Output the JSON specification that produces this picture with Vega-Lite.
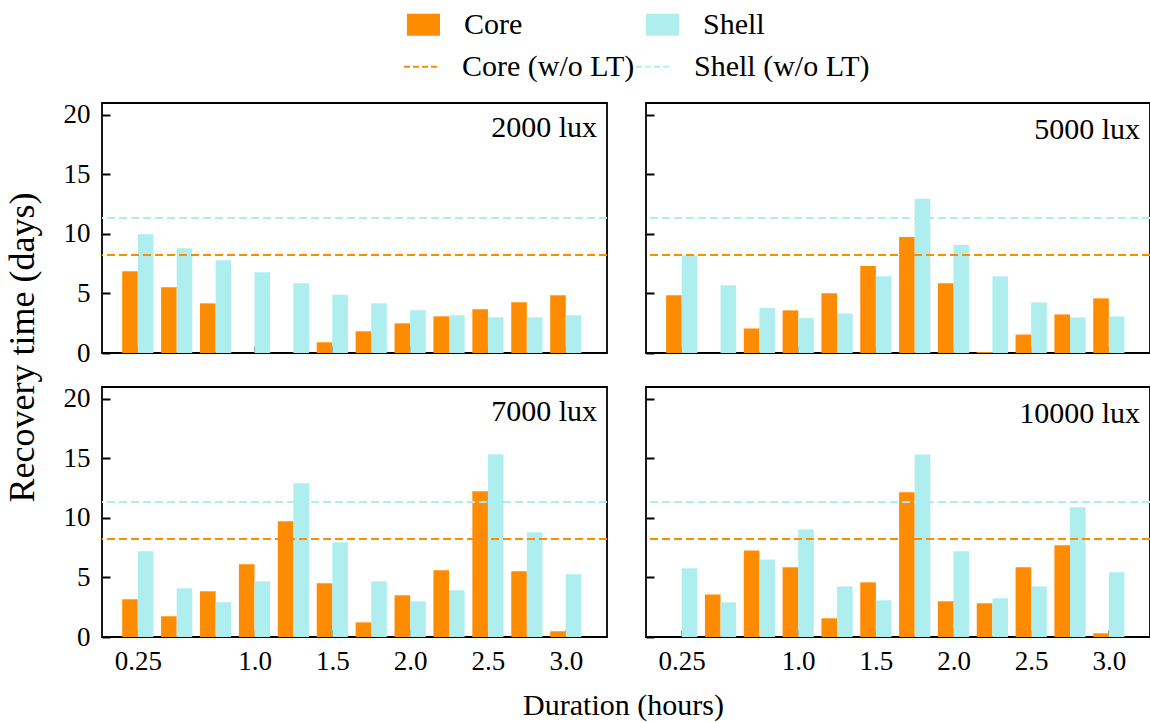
{
  "$schema": "https://vega.github.io/schema/vega-lite/v6.json",
  "background": "white",
  "padding": {"left": 5, "top": 8, "right": 1, "bottom": 4},
  "datasets": {
    "bars": [
      {"lux": "2000 lux", "duration": 0.25, "series": "Core", "days": 6.86},
      {"lux": "2000 lux", "duration": 0.25, "series": "Shell", "days": 9.97},
      {"lux": "2000 lux", "duration": 0.5, "series": "Core", "days": 5.52},
      {"lux": "2000 lux", "duration": 0.5, "series": "Shell", "days": 8.8},
      {"lux": "2000 lux", "duration": 0.75, "series": "Core", "days": 4.17},
      {"lux": "2000 lux", "duration": 0.75, "series": "Shell", "days": 7.79},
      {"lux": "2000 lux", "duration": 1.0, "series": "Core", "days": 0},
      {"lux": "2000 lux", "duration": 1.0, "series": "Shell", "days": 6.78},
      {"lux": "2000 lux", "duration": 1.25, "series": "Core", "days": 0},
      {"lux": "2000 lux", "duration": 1.25, "series": "Shell", "days": 5.85},
      {"lux": "2000 lux", "duration": 1.5, "series": "Core", "days": 0.9},
      {"lux": "2000 lux", "duration": 1.5, "series": "Shell", "days": 4.9},
      {"lux": "2000 lux", "duration": 1.75, "series": "Core", "days": 1.82},
      {"lux": "2000 lux", "duration": 1.75, "series": "Shell", "days": 4.17},
      {"lux": "2000 lux", "duration": 2.0, "series": "Core", "days": 2.49},
      {"lux": "2000 lux", "duration": 2.0, "series": "Shell", "days": 3.59},
      {"lux": "2000 lux", "duration": 2.25, "series": "Core", "days": 3.08},
      {"lux": "2000 lux", "duration": 2.25, "series": "Shell", "days": 3.17},
      {"lux": "2000 lux", "duration": 2.5, "series": "Core", "days": 3.67},
      {"lux": "2000 lux", "duration": 2.5, "series": "Shell", "days": 3.0},
      {"lux": "2000 lux", "duration": 2.75, "series": "Core", "days": 4.26},
      {"lux": "2000 lux", "duration": 2.75, "series": "Shell", "days": 3.0},
      {"lux": "2000 lux", "duration": 3.0, "series": "Core", "days": 4.85},
      {"lux": "2000 lux", "duration": 3.0, "series": "Shell", "days": 3.17},

      {"lux": "5000 lux", "duration": 0.25, "series": "Core", "days": 4.85},
      {"lux": "5000 lux", "duration": 0.25, "series": "Shell", "days": 8.2},
      {"lux": "5000 lux", "duration": 0.5, "series": "Core", "days": 0},
      {"lux": "5000 lux", "duration": 0.5, "series": "Shell", "days": 5.69},
      {"lux": "5000 lux", "duration": 0.75, "series": "Core", "days": 2.06},
      {"lux": "5000 lux", "duration": 0.75, "series": "Shell", "days": 3.77},
      {"lux": "5000 lux", "duration": 1.0, "series": "Core", "days": 3.58},
      {"lux": "5000 lux", "duration": 1.0, "series": "Shell", "days": 2.93},
      {"lux": "5000 lux", "duration": 1.25, "series": "Core", "days": 5.01},
      {"lux": "5000 lux", "duration": 1.25, "series": "Shell", "days": 3.32},
      {"lux": "5000 lux", "duration": 1.5, "series": "Core", "days": 7.3},
      {"lux": "5000 lux", "duration": 1.5, "series": "Shell", "days": 6.45},
      {"lux": "5000 lux", "duration": 1.75, "series": "Core", "days": 9.75},
      {"lux": "5000 lux", "duration": 1.75, "series": "Shell", "days": 12.96},
      {"lux": "5000 lux", "duration": 2.0, "series": "Core", "days": 5.86},
      {"lux": "5000 lux", "duration": 2.0, "series": "Shell", "days": 9.07},
      {"lux": "5000 lux", "duration": 2.25, "series": "Core", "days": 0.08},
      {"lux": "5000 lux", "duration": 2.25, "series": "Shell", "days": 6.45},
      {"lux": "5000 lux", "duration": 2.5, "series": "Core", "days": 1.55},
      {"lux": "5000 lux", "duration": 2.5, "series": "Shell", "days": 4.25},
      {"lux": "5000 lux", "duration": 2.75, "series": "Core", "days": 3.24},
      {"lux": "5000 lux", "duration": 2.75, "series": "Shell", "days": 2.99},
      {"lux": "5000 lux", "duration": 3.0, "series": "Core", "days": 4.59},
      {"lux": "5000 lux", "duration": 3.0, "series": "Shell", "days": 3.07},

      {"lux": "7000 lux", "duration": 0.25, "series": "Core", "days": 3.17},
      {"lux": "7000 lux", "duration": 0.25, "series": "Shell", "days": 7.2},
      {"lux": "7000 lux", "duration": 0.5, "series": "Core", "days": 1.74},
      {"lux": "7000 lux", "duration": 0.5, "series": "Shell", "days": 4.09},
      {"lux": "7000 lux", "duration": 0.75, "series": "Core", "days": 3.84},
      {"lux": "7000 lux", "duration": 0.75, "series": "Shell", "days": 2.91},
      {"lux": "7000 lux", "duration": 1.0, "series": "Core", "days": 6.11},
      {"lux": "7000 lux", "duration": 1.0, "series": "Shell", "days": 4.68},
      {"lux": "7000 lux", "duration": 1.25, "series": "Core", "days": 9.72},
      {"lux": "7000 lux", "duration": 1.25, "series": "Shell", "days": 12.91},
      {"lux": "7000 lux", "duration": 1.5, "series": "Core", "days": 4.51},
      {"lux": "7000 lux", "duration": 1.5, "series": "Shell", "days": 7.96},
      {"lux": "7000 lux", "duration": 1.75, "series": "Core", "days": 1.23},
      {"lux": "7000 lux", "duration": 1.75, "series": "Shell", "days": 4.68},
      {"lux": "7000 lux", "duration": 2.0, "series": "Core", "days": 3.5},
      {"lux": "7000 lux", "duration": 2.0, "series": "Shell", "days": 3.0},
      {"lux": "7000 lux", "duration": 2.25, "series": "Core", "days": 5.6},
      {"lux": "7000 lux", "duration": 2.25, "series": "Shell", "days": 3.92},
      {"lux": "7000 lux", "duration": 2.5, "series": "Core", "days": 12.24},
      {"lux": "7000 lux", "duration": 2.5, "series": "Shell", "days": 15.35},
      {"lux": "7000 lux", "duration": 2.75, "series": "Core", "days": 5.52},
      {"lux": "7000 lux", "duration": 2.75, "series": "Shell", "days": 8.8},
      {"lux": "7000 lux", "duration": 3.0, "series": "Core", "days": 0.48},
      {"lux": "7000 lux", "duration": 3.0, "series": "Shell", "days": 5.27},

      {"lux": "10000 lux", "duration": 0.25, "series": "Core", "days": 0},
      {"lux": "10000 lux", "duration": 0.25, "series": "Shell", "days": 5.77},
      {"lux": "10000 lux", "duration": 0.5, "series": "Core", "days": 3.58},
      {"lux": "10000 lux", "duration": 0.5, "series": "Shell", "days": 2.91},
      {"lux": "10000 lux", "duration": 0.75, "series": "Core", "days": 7.27},
      {"lux": "10000 lux", "duration": 0.75, "series": "Shell", "days": 6.52},
      {"lux": "10000 lux", "duration": 1.0, "series": "Core", "days": 5.85},
      {"lux": "10000 lux", "duration": 1.0, "series": "Shell", "days": 9.04},
      {"lux": "10000 lux", "duration": 1.25, "series": "Core", "days": 1.57},
      {"lux": "10000 lux", "duration": 1.25, "series": "Shell", "days": 4.25},
      {"lux": "10000 lux", "duration": 1.5, "series": "Core", "days": 4.59},
      {"lux": "10000 lux", "duration": 1.5, "series": "Shell", "days": 3.08},
      {"lux": "10000 lux", "duration": 1.75, "series": "Core", "days": 12.15},
      {"lux": "10000 lux", "duration": 1.75, "series": "Shell", "days": 15.33},
      {"lux": "10000 lux", "duration": 2.0, "series": "Core", "days": 3.0},
      {"lux": "10000 lux", "duration": 2.0, "series": "Shell", "days": 7.2},
      {"lux": "10000 lux", "duration": 2.25, "series": "Core", "days": 2.83},
      {"lux": "10000 lux", "duration": 2.25, "series": "Shell", "days": 3.25},
      {"lux": "10000 lux", "duration": 2.5, "series": "Core", "days": 5.85},
      {"lux": "10000 lux", "duration": 2.5, "series": "Shell", "days": 4.25},
      {"lux": "10000 lux", "duration": 2.75, "series": "Core", "days": 7.7},
      {"lux": "10000 lux", "duration": 2.75, "series": "Shell", "days": 10.9},
      {"lux": "10000 lux", "duration": 3.0, "series": "Core", "days": 0.31},
      {"lux": "10000 lux", "duration": 3.0, "series": "Shell", "days": 5.43}
    ],
    "baseline": [
      {"series": "Core (w/o LT)", "days": 8.24},
      {"series": "Shell (w/o LT)", "days": 11.34}
    ]
  },
  "title": {
    "text": "Duration (hours)",
    "orient": "bottom",
    "anchor": "middle",
    "frame": "bounds",
    "font": "Liberation Serif",
    "fontSize": 30,
    "fontWeight": "normal",
    "color": "black",
    "offset": 16,
    "dx": 45
  },
  "vconcat": [
    {
      "title": {
        "text": "Recovery time (days)",
        "orient": "left",
        "anchor": "middle",
        "frame": "bounds",
        "font": "Liberation Serif",
        "fontSize": 36,
        "fontWeight": "normal",
        "color": "black",
        "offset": 20,
        "dx": 40
      },
      "columns": 2,
      "bounds": "flush",
      "spacing": {"row": 34, "column": 39},
      "concat": [
        {
          "width": 505, "height": 250,
          "title": {"text": "2000 lux", "anchor": "end", "frame": "group", "orient": "top", "offset": -42, "dx": -10, "fontSize": 30, "fontWeight": "normal", "font": "Liberation Serif", "color": "black"},
          "layer": [
            {"data": {"name": "bars"}, "transform": [{"filter": "datum.lux == '2000 lux' && datum.series == 'Core'"}],
             "mark": {"type": "bar", "width": 15.6, "xOffset": -7.8},
             "encoding": {
               "x": {"field": "duration", "type": "quantitative", "scale": {"domain": [0.02, 3.265], "nice": false, "zero": false, "padding": 0},
                     "axis": {"values": [0.25, 1, 1.5, 2, 2.5, 3], "labels": false, "tickSize": -7, "labelPadding": 18}},
               "y": {"field": "days", "type": "quantitative", "scale": {"domain": [0, 21], "nice": false, "padding": 0},
                     "axis": {"values": [0, 5, 10, 15, 20], "labels": true, "tickSize": -8, "labelPadding": 20}},
               "fill": {"field": "series", "type": "nominal",
                        "scale": {"domain": ["Core", "Shell"], "range": ["#ff8c00", "#afeeee"]},
                        "legend": {"legendX": 305, "legendY": -95, "columnPadding": 123, "symbolType": "M-1,-0.667H1V0.667H-1Z", "symbolStrokeWidth": 0}}}},
            {"data": {"name": "bars"}, "transform": [{"filter": "datum.lux == '2000 lux' && datum.series == 'Shell'"}],
             "mark": {"type": "bar", "width": 15.6, "xOffset": 7.8},
             "encoding": {"x": {"field": "duration", "type": "quantitative", "scale": {"domain": [0.02, 3.265], "nice": false, "zero": false, "padding": 0}},
                          "y": {"field": "days", "type": "quantitative", "scale": {"domain": [0, 21], "nice": false, "padding": 0}},
                          "fill": {"field": "series", "type": "nominal"}}},
            {"data": {"name": "baseline"},
             "mark": {"type": "rule", "strokeDash": [8, 4], "strokeWidth": 2},
             "encoding": {"y": {"field": "days", "type": "quantitative", "scale": {"domain": [0, 21], "nice": false, "padding": 0}},
                          "stroke": {"field": "series", "type": "nominal",
                                     "scale": {"domain": ["Core (w/o LT)", "Shell (w/o LT)"], "range": ["#ff8c00", "#afeeee"]},
                                     "legend": {"legendX": 301, "legendY": -54, "columnPadding": -4, "symbolType": "stroke", "symbolDash": [6, 3], "symbolStrokeWidth": 2}}}}
          ]
        },
        {
          "width": 504, "height": 250,
          "title": {"text": "5000 lux", "anchor": "end", "frame": "group", "orient": "top", "offset": -42, "dx": -10, "fontSize": 30, "fontWeight": "normal", "font": "Liberation Serif", "color": "black"},
          "layer": [
            {"data": {"name": "bars"}, "transform": [{"filter": "datum.lux == '5000 lux' && datum.series == 'Core'"}],
             "mark": {"type": "bar", "width": 15.6, "xOffset": -7.8},
             "encoding": {
               "x": {"field": "duration", "type": "quantitative", "scale": {"domain": [0.02, 3.265], "nice": false, "zero": false, "padding": 0},
                     "axis": {"values": [0.25, 1, 1.5, 2, 2.5, 3], "labels": false, "tickSize": -7, "labelPadding": 18}},
               "y": {"field": "days", "type": "quantitative", "scale": {"domain": [0, 21], "nice": false, "padding": 0},
                     "axis": {"values": [0, 5, 10, 15, 20], "labels": false, "tickSize": -8, "labelPadding": 20}},
               "fill": {"field": "series", "type": "nominal"}}},
            {"data": {"name": "bars"}, "transform": [{"filter": "datum.lux == '5000 lux' && datum.series == 'Shell'"}],
             "mark": {"type": "bar", "width": 15.6, "xOffset": 7.8},
             "encoding": {"x": {"field": "duration", "type": "quantitative", "scale": {"domain": [0.02, 3.265], "nice": false, "zero": false, "padding": 0}},
                          "y": {"field": "days", "type": "quantitative", "scale": {"domain": [0, 21], "nice": false, "padding": 0}},
                          "fill": {"field": "series", "type": "nominal"}}},
            {"data": {"name": "baseline"},
             "mark": {"type": "rule", "strokeDash": [8, 4], "strokeWidth": 2},
             "encoding": {"y": {"field": "days", "type": "quantitative", "scale": {"domain": [0, 21], "nice": false, "padding": 0}},
                          "stroke": {"field": "series", "type": "nominal"}}}
          ]
        },
        {
          "width": 505, "height": 250,
          "title": {"text": "7000 lux", "anchor": "end", "frame": "group", "orient": "top", "offset": -42, "dx": -10, "fontSize": 30, "fontWeight": "normal", "font": "Liberation Serif", "color": "black"},
          "layer": [
            {"data": {"name": "bars"}, "transform": [{"filter": "datum.lux == '7000 lux' && datum.series == 'Core'"}],
             "mark": {"type": "bar", "width": 15.6, "xOffset": -7.8},
             "encoding": {
               "x": {"field": "duration", "type": "quantitative", "scale": {"domain": [0.02, 3.265], "nice": false, "zero": false, "padding": 0},
                     "axis": {"values": [0.25, 1, 1.5, 2, 2.5, 3], "labelExpr": "datum.value == 0.25 ? '0.25' : format(datum.value, '.1f')", "labels": true, "tickSize": -7, "labelPadding": 18}},
               "y": {"field": "days", "type": "quantitative", "scale": {"domain": [0, 21], "nice": false, "padding": 0},
                     "axis": {"values": [0, 5, 10, 15, 20], "labels": true, "tickSize": -8, "labelPadding": 20}},
               "fill": {"field": "series", "type": "nominal"}}},
            {"data": {"name": "bars"}, "transform": [{"filter": "datum.lux == '7000 lux' && datum.series == 'Shell'"}],
             "mark": {"type": "bar", "width": 15.6, "xOffset": 7.8},
             "encoding": {"x": {"field": "duration", "type": "quantitative", "scale": {"domain": [0.02, 3.265], "nice": false, "zero": false, "padding": 0}},
                          "y": {"field": "days", "type": "quantitative", "scale": {"domain": [0, 21], "nice": false, "padding": 0}},
                          "fill": {"field": "series", "type": "nominal"}}},
            {"data": {"name": "baseline"},
             "mark": {"type": "rule", "strokeDash": [8, 4], "strokeWidth": 2},
             "encoding": {"y": {"field": "days", "type": "quantitative", "scale": {"domain": [0, 21], "nice": false, "padding": 0}},
                          "stroke": {"field": "series", "type": "nominal"}}}
          ]
        },
        {
          "width": 504, "height": 250,
          "title": {"text": "10000 lux", "anchor": "end", "frame": "group", "orient": "top", "offset": -42, "dx": -10, "fontSize": 30, "fontWeight": "normal", "font": "Liberation Serif", "color": "black"},
          "layer": [
            {"data": {"name": "bars"}, "transform": [{"filter": "datum.lux == '10000 lux' && datum.series == 'Core'"}],
             "mark": {"type": "bar", "width": 15.6, "xOffset": -7.8},
             "encoding": {
               "x": {"field": "duration", "type": "quantitative", "scale": {"domain": [0.02, 3.265], "nice": false, "zero": false, "padding": 0},
                     "axis": {"values": [0.25, 1, 1.5, 2, 2.5, 3], "labelExpr": "datum.value == 0.25 ? '0.25' : format(datum.value, '.1f')", "labels": true, "tickSize": -7, "labelPadding": 18}},
               "y": {"field": "days", "type": "quantitative", "scale": {"domain": [0, 21], "nice": false, "padding": 0},
                     "axis": {"values": [0, 5, 10, 15, 20], "labels": false, "tickSize": -8, "labelPadding": 20}},
               "fill": {"field": "series", "type": "nominal"}}},
            {"data": {"name": "bars"}, "transform": [{"filter": "datum.lux == '10000 lux' && datum.series == 'Shell'"}],
             "mark": {"type": "bar", "width": 15.6, "xOffset": 7.8},
             "encoding": {"x": {"field": "duration", "type": "quantitative", "scale": {"domain": [0.02, 3.265], "nice": false, "zero": false, "padding": 0}},
                          "y": {"field": "days", "type": "quantitative", "scale": {"domain": [0, 21], "nice": false, "padding": 0}},
                          "fill": {"field": "series", "type": "nominal"}}},
            {"data": {"name": "baseline"},
             "mark": {"type": "rule", "strokeDash": [8, 4], "strokeWidth": 2},
             "encoding": {"y": {"field": "days", "type": "quantitative", "scale": {"domain": [0, 21], "nice": false, "padding": 0}},
                          "stroke": {"field": "series", "type": "nominal"}}}
          ]
        }
      ]
    }
  ],
  "config": {
    "font": "Liberation Serif",
    "view": {"stroke": "black", "strokeWidth": 1.8},
    "axis": {
      "title": null,
      "domain": false,
      "grid": false,
      "labelFont": "Liberation Serif",
      "labelFontSize": 27,
      "labelColor": "black",
      "labelFlush": false,
      "labelOverlap": false,
      "tickColor": "black",
      "tickWidth": 2
    },
    "legend": {
      "orient": "none",
      "columns": 2,
      "title": null,
      "labelFont": "Liberation Serif",
      "labelFontSize": 30,
      "labelColor": "black",
      "labelLimit": 400,
      "labelOffset": 24,
      "rowPadding": 10,
      "symbolSize": 1089,
      "symbolOpacity": 1
    }
  }
}
